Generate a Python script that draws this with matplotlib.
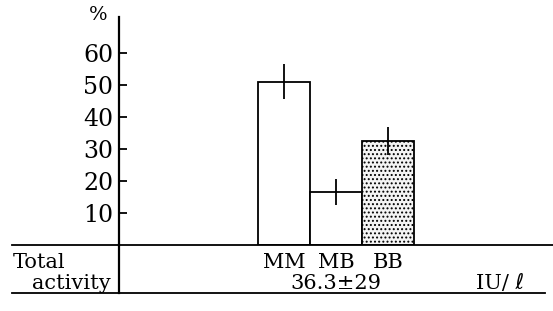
import matplotlib
matplotlib.use("Agg")
import matplotlib.pyplot as plt
from matplotlib.lines import Line2D
from matplotlib.transforms import blended_transform_factory

plt.rcParams['font.family'] = ['DejaVu Serif', 'DejaVu Sans']
plt.rcParams['hatch.linewidth'] = 0.9
plt.rcParams['hatch.color'] = '#777777'

categories = ["MM", "MB", "BB"]
values = [51.0, 16.5, 32.5]
errors = [5.5, 4.0, 4.3]
hatches = [None, None, '....']
yticks = [10, 20, 30, 40, 50, 60]
total_label = "36.3\u00b129"
unit_label = "IU/ \u2113"

W, H = 553, 311
fig = plt.figure(figsize=(W / 100, H / 100), dpi=100)

def fx(px):
    return px / W

def fy(py):
    return 1 - py / H

ax_left, ax_right = 119, 553
ax_bottom, ax_top = 245, 17
ax = fig.add_axes([fx(ax_left), fy(ax_bottom), fx(ax_right) - fx(ax_left), fy(ax_top) - fy(ax_bottom)])
ax.patch.set_alpha(0)

x = list(range(len(categories)))
bars = ax.bar(x, values, width=1.0, color='white', edgecolor='black', linewidth=1.3)
for b, h in zip(bars, hatches):
    if h:
        b.set_hatch(h)
        b.set_facecolor('#f4f4f4')
ax.errorbar(x, values, yerr=errors, fmt='none', ecolor='black', elinewidth=1.3, capsize=0)

ax.set_ylim(0, 71.25)
ax.set_xlim(-3.17, 5.17)
for s in ['top', 'right', 'bottom']:
    ax.spines[s].set_visible(False)
ax.spines['left'].set_linewidth(1.6)
ax.set_yticks(yticks)
ax.set_yticklabels([str(t) for t in yticks], fontsize=17)
ax.tick_params(axis='y', direction='in', length=6, width=1.3, pad=4)
ax.set_xticks([])

# category labels under the bars (data x, figure y)
trans = blended_transform_factory(ax.transData, fig.transFigure)
for xi, c in zip(x, categories):
    ax.text(xi, fy(268), c, transform=trans, fontsize=15, ha='center', va='baseline')

# percent sign
fig.text(fx(108), fy(15), "%", fontsize=14, ha='right', va='center')

# table lines
fig.add_artist(Line2D([fx(12), fx(553)], [fy(245), fy(245)], color='black', lw=1.3))
fig.add_artist(Line2D([fx(12), fx(545)], [fy(293), fy(293)], color='black', lw=1.3))
fig.add_artist(Line2D([fx(119), fx(119)], [fy(245), fy(293)], color='black', lw=1.6))

# table text
fig.text(fx(13), fy(268), "Total", fontsize=15, ha='left', va='baseline')
fig.text(fx(111), fy(289), "activity", fontsize=15, ha='right', va='baseline')
fig.text(fx(336), fy(289), total_label, fontsize=15, ha='center', va='baseline')
fig.text(fx(524), fy(289), unit_label, fontsize=15, ha='right', va='baseline')

fig.savefig("out.png", dpi=100)
